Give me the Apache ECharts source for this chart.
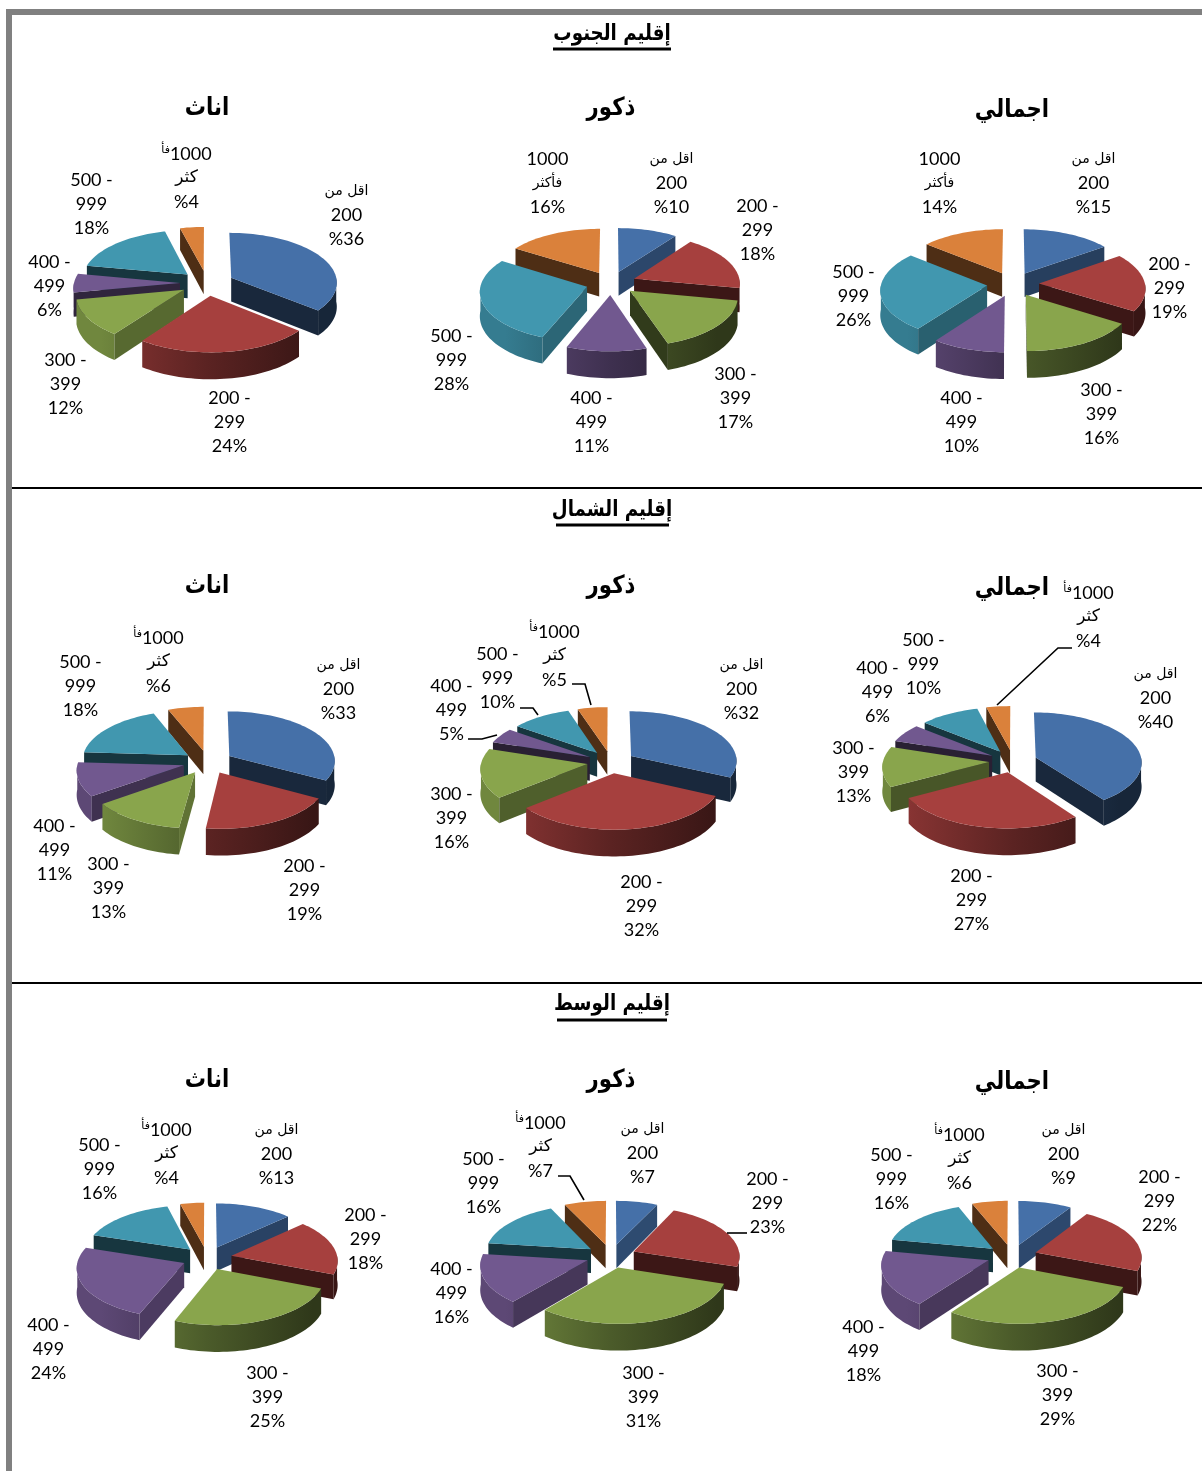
<!DOCTYPE html>
<html>
<head>
<meta charset="utf-8">
<style>html,body{margin:0;padding:0;background:#fff}#c{width:1202px;height:1471px}</style>
<script src="https://cdn.jsdelivr.net/npm/echarts@6/dist/echarts.min.js"></script>
</head>
<body>
<div id="c"></div>
<script>
// ---------- data ----------
var rangeLabels = ['اقل من\n200', '200 -\n299', '300 -\n399', '400 -\n499', '500 -\n999', '1000\nكثر'];
var regionTitles = ['إقليم الجنوب', 'إقليم الشمال', 'إقليم الوسط'];
var groupTitles = ['اناث', 'ذكور', 'اجمالي'];
var southFemale = [36, 24, 12, 6, 18, 4];
var southMale = [10, 18, 17, 11, 28, 16];
var southTotal = [15, 19, 16, 10, 26, 14];
var northFemale = [33, 19, 13, 11, 18, 6];
var northMale = [32, 32, 16, 5, 10, 5];
var northTotal = [40, 27, 13, 6, 10, 4];
var centralFemale = [13, 18, 25, 24, 16, 4];
var centralMale = [7, 23, 31, 16, 16, 7];
var centralTotal = [9, 22, 29, 18, 16, 6];
var allValues = [southFemale, southMale, southTotal, northFemale, northMale, northTotal, centralFemale, centralMale, centralTotal];

// ---------- layout and style ----------
var sliceColors = ['#4570A8', '#A6403E', '#89A54C', '#71588F', '#4197AF', '#DA813B'];
var pieLayout = [
  [207, 283, 27], [611, 283, 25], [1013, 284, 26],
  [208, 762, 25], [611, 762, 24], [1013, 761, 24],
  [207, 1258, 25], [611, 1256, 25], [1012, 1256, 25]
];
var labelLayout = [
  [[346,190],[229,397],[65,359],[49,261],[91,179],[186,153]],
  [[671,158],[757,205],[735,373],[591,397],[451,335],[547,158]],
  [[1093,158],[1169,263],[1101,389],[961,397],[853,271],[939,158]],
  [[338,664],[304,865],[108,863],[54,825],[80,661],[158,637]],
  [[741,664],[641,881],[451,793],[451,685],[497,653],[554,631]],
  [[1155,673],[971,875],[853,747],[877,667],[923,639],[1088,592]],
  [[276,1129],[365,1214],[267,1372],[48,1324],[99,1144],[166,1129]],
  [[642,1128],[767,1178],[643,1372],[451,1268],[483,1158],[540,1122]],
  [[1063,1129],[1159,1176],[1057,1370],[863,1326],[891,1154],[959,1134]]
];
var regionTitleY = [[34,49,553,671],[510,525,556,669],[1004,1020,557,667]];
var groupTitlePos = [[207,108],[611,108],[1012,110],[207,586],[611,586],[1012,588],[207,1080],[611,1080],[1012,1082]];
var leaderLines = [
  [[1072,648],[1058,648],[997,705]],
  [[468,739],[482,739],[497,735]],
  [[520,708],[533,708],[538,715]],
  [[572,684],[585,684],[591,705]],
  [[558,1176],[570,1176],[584,1200]],
  [[727,1233],[747,1233]]
];
var RX = 106, RY = 49.5, PERSP = 0.085, THICK = 24, LINE_H = 24;

function shade(hex, f) {
  var n = parseInt(hex.slice(1), 16);
  var c = [(n >> 16) & 255, (n >> 8) & 255, n & 255].map(function (v) { return Math.round(v * f); });
  return 'rgb(' + c.join(',') + ')';
}

function labelLines(chartIdx, catIdx, value) {
  var lines = rangeLabels[catIdx].split('\n');
  var pct = value + '%';
  if (catIdx === 0) pct = '%' + value;
  if (catIdx === 5) {
    if (chartIdx === 1 || chartIdx === 2) { lines = ['1000', 'فأكثر']; }
    else { lines = ['{ar|فأ}{en|1000}', 'كثر']; pct = '%' + value; }
  }
  return lines.concat([pct]);
}

function makeRender(chartIdx) {
  var vals = allValues[chartIdx];
  var total = vals.reduce(function (a, b) { return a + b; }, 0);
  var L = pieLayout[chartIdx], cx = L[0], cy = L[1], explode = L[2] / RX;
  var spans = [], acc = 0;
  vals.forEach(function (v) { spans.push([acc / total * 2 * Math.PI, (acc + v) / total * 2 * Math.PI]); acc += v; });
  var depth = spans.map(function (s, i) { return [Math.cos((s[0] + s[1]) / 2), i]; })
    .sort(function (a, b) { return b[0] - a[0]; });
  var rank = [];
  depth.forEach(function (d, r) { rank[d[1]] = r; });

  return function (params, api) {
    var i = params.dataIndex;
    var a0 = spans[i][0], a1 = spans[i][1], mid = (a0 + a1) / 2;
    var du = explode * Math.sin(mid), dv = explode * Math.cos(mid);
    function pt(r, th, drop) {
      var u = du + r * Math.sin(th), v = dv + r * Math.cos(th), w = 1 / (1 + PERSP * v);
      return [cx + RX * u * w, cy - RY * v * w + (drop ? THICK * w : 0)];
    }
    var color = sliceColors[i], base = rank[i] * 10 + 10, children = [];
    var step = Math.PI / 90;

    // outer wall: the part of the rim that faces the viewer
    var w0 = Math.max(a0, Math.PI / 2), w1 = Math.min(a1, Math.PI * 1.5);
    if (w1 > w0) {
      var up = [], dn = [];
      for (var t = w0; t < w1; t += step) { up.push(pt(1, t, false)); dn.unshift(pt(1, t, true)); }
      up.push(pt(1, w1, false)); dn.unshift(pt(1, w1, true));
      children.push({
        type: 'polygon', z2: base, shape: { points: up.concat(dn) },
        style: { fill: { type: 'linear', x: cx - RX, y: 0, x2: cx + RX, y2: 0, global: true,
          colorStops: [{ offset: 0, color: shade(color, 0.82) }, { offset: 0.5, color: shade(color, 0.55) }, { offset: 1, color: shade(color, 0.34) }] } }
      });
    }
    // cut faces
    [[a0, -Math.cos(a0), Math.sin(a0)], [a1, Math.cos(a1), -Math.sin(a1)]].forEach(function (f) {
      if (f[2] < 0) {
        var nu = f[1], k = nu > 0 ? 0.36 + 0.34 * nu : 0.36;
        children.push({
          type: 'polygon', z2: base + 1,
          shape: { points: [pt(0, 0, false), pt(1, f[0], false), pt(1, f[0], true), pt(0, 0, true)] },
          style: { fill: shade(color, k) }
        });
      }
    });
    // top face
    var top = [pt(0, 0, false)];
    for (var t2 = a0; t2 < a1; t2 += step) top.push(pt(1, t2, false));
    top.push(pt(1, a1, false));
    children.push({ type: 'polygon', z2: base + 2, shape: { points: top }, style: { fill: color } });

    // label
    var pos = labelLayout[chartIdx][i];
    labelLines(chartIdx, i, api.value(0)).forEach(function (line, n) {
      var rich = line.charAt(0) === '{';
      var arabic = /[\u0600-\u06FF]/.test(line) && !rich;
      var font = arabic ? (line === 'كثر' ? '17px "DejaVu Sans"' : '14px "DejaVu Sans"') : '18px Lato';
      var style = {
        x: pos[0] + 0.5, y: pos[1] + n * LINE_H + 1, text: line, align: 'center', verticalAlign: 'middle', fill: '#000', font: font
      };
      if (rich) {
        style.rich = {
          ar: { font: '11px "DejaVu Sans"', fill: '#000', verticalAlign: 'top' },
          en: { font: '18px Lato', fill: '#000' }
        };
      }
      children.push({ type: 'text', z2: 200, style: style });
    });
    return { type: 'group', children: children };
  };
}

var series = allValues.map(function (vals, idx) {
  return {
    type: 'custom', coordinateSystem: 'none', silent: true, animation: false,
    name: regionTitles[Math.floor(idx / 3)] + ' ' + groupTitles[idx % 3],
    data: vals, renderItem: makeRender(idx)
  };
});

var graphics = [
  { type: 'rect', shape: { x: 6, y: 9, width: 1196, height: 6 }, style: { fill: '#808080' } },
  { type: 'rect', shape: { x: 6, y: 9, width: 6, height: 1462 }, style: { fill: '#808080' } },
  { type: 'line', shape: { x1: 12, y1: 488, x2: 1202, y2: 488 }, style: { stroke: '#000', lineWidth: 2 } },
  { type: 'line', shape: { x1: 12, y1: 983, x2: 1202, y2: 983 }, style: { stroke: '#000', lineWidth: 2 } }
];
regionTitles.forEach(function (t, i) {
  var p = regionTitleY[i];
  graphics.push({ type: 'text', x: 612, y: p[0], scaleX: 0.83, style: { x: 0, y: 0, text: t, align: 'center', verticalAlign: 'middle', fill: '#000', font: 'bold 22px "DejaVu Sans"' } });
  graphics.push({ type: 'line', shape: { x1: p[2], y1: p[1], x2: p[3], y2: p[1] }, style: { stroke: '#000', lineWidth: 3 } });
});
groupTitlePos.forEach(function (p, i) {
  graphics.push({ type: 'text', x: p[0], y: p[1], scaleX: 0.85, style: { x: 0, y: 0, text: groupTitles[i % 3], align: 'center', verticalAlign: 'middle', fill: '#000', font: 'bold 25px "DejaVu Sans"' } });
});
leaderLines.forEach(function (pts) {
  graphics.push({ type: 'polyline', z: 5, shape: { points: pts }, style: { stroke: '#000', lineWidth: 1.6, fill: null } });
});

var chart = echarts.init(document.getElementById('c'), null, { renderer: 'canvas' });
chart.setOption({ backgroundColor: '#fff', animation: false, series: series, graphic: { elements: graphics } });
</script>
</body>
</html>
